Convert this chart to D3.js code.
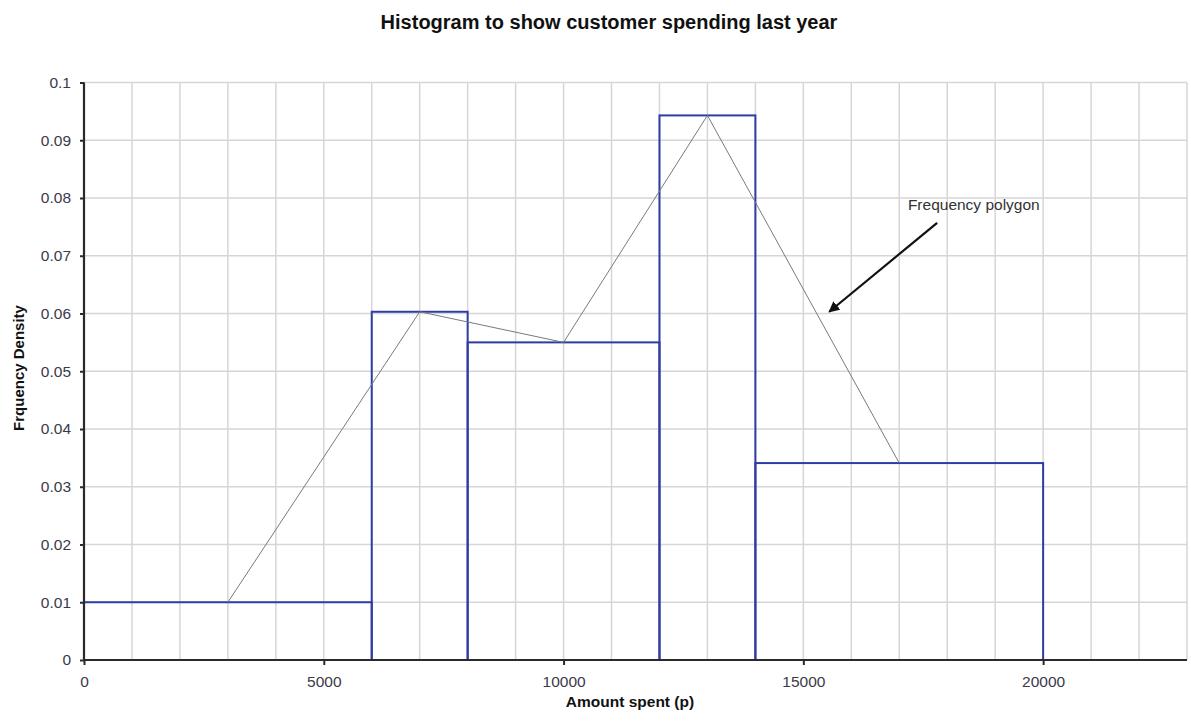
<!DOCTYPE html>
<html>
<head>
<meta charset="utf-8">
<script src="https://cdn.jsdelivr.net/npm/d3@7"></script>
<style>
  html, body { margin: 0; padding: 0; background: #fff; }
  svg { display: block; font-family: "Liberation Sans", Arial, sans-serif; }
</style>
</head>
<body>
<svg id="chart" width="1191" height="721"></svg>
<script>
// Class intervals (amount spent, pence) and frequency densities
const classStart = [0, 6000, 8000, 12000, 14000];
const classEnd = [6000, 8000, 12000, 14000, 20000];
const density = [0.0100, 0.0603, 0.0550, 0.0943, 0.0341];

// Frequency polygon vertices (class midpoints)
const polyX = [3000, 7000, 10000, 13000, 17000];
const polyY = [0.0100, 0.0603, 0.0550, 0.0943, 0.0341];

const xTicks = [0, 5000, 10000, 15000, 20000];
const yTicks = [0, 0.01, 0.02, 0.03, 0.04, 0.05, 0.06, 0.07, 0.08, 0.09, 0.1];

const W = 1191, H = 721;
const margin = { top: 82.5, right: 4, bottom: 61, left: 84 };

const svg = d3.select("#chart");

const x = d3.scaleLinear().domain([0, 23000]).range([margin.left, W - margin.right]);
const y = d3.scaleLinear().domain([0, 0.1]).range([H - margin.bottom, margin.top]);

// Grid
const grid = svg.append("g").attr("stroke", "#d6d6d6").attr("stroke-width", 1.5);
grid.selectAll("line.v")
  .data(d3.range(1000, 23001, 1000))
  .join("line")
  .attr("x1", d => x(d)).attr("x2", d => x(d))
  .attr("y1", y(0)).attr("y2", y(0.1));
grid.selectAll("line.h")
  .data(yTicks.slice(1))
  .join("line")
  .attr("x1", x(0)).attr("x2", x(23000))
  .attr("y1", d => y(d)).attr("y2", d => y(d));

// Histogram bars (outlined)
svg.append("g")
  .selectAll("rect")
  .data(density)
  .join("rect")
  .attr("x", (d, i) => x(classStart[i]))
  .attr("width", (d, i) => x(classEnd[i]) - x(classStart[i]))
  .attr("y", d => y(d))
  .attr("height", d => y(0) - y(d))
  .attr("fill", "none")
  .attr("stroke", "#2e3ca6")
  .attr("stroke-width", 2);

// Frequency polygon
const line = d3.line().x((d, i) => x(polyX[i])).y(d => y(d));
svg.append("path")
  .datum(polyY)
  .attr("d", line)
  .attr("fill", "none")
  .attr("stroke", "#7a7a7a")
  .attr("stroke-width", 1);

// Axes
const yAxis = d3.axisLeft(y)
  .tickValues(yTicks)
  .tickSize(4)
  .tickPadding(9)
  .tickFormat(d => String(+d.toFixed(2)));
const gy = svg.append("g").attr("transform", `translate(${x(0)},0)`).call(yAxis);

const xAxis = d3.axisBottom(x)
  .tickValues(xTicks)
  .tickSize(5)
  .tickPadding(11)
  .tickFormat(d => String(d));
const gx = svg.append("g").attr("transform", `translate(0,${y(0)})`).call(xAxis);

[gx, gy].forEach(g => {
  g.select(".domain").attr("stroke", "#2a2a2a").attr("stroke-width", 2.2);
  g.selectAll(".tick line").attr("stroke", "#2a2a2a").attr("stroke-width", 2);
  g.selectAll(".tick text")
    .attr("fill", "#3a3a4a")
    .style("font-size", "15.5px")
    .style("font-family", "'Liberation Sans', Arial, sans-serif");
});
gx.select(".domain").attr("d", `M${x(0)},0H${x(23000)}`);
gy.select(".domain").attr("d", `M0,${y(0)}V${y(0.1)}`);

// Titles
svg.append("text")
  .attr("x", 609).attr("y", 29)
  .attr("text-anchor", "middle")
  .attr("font-weight", "bold")
  .attr("font-size", 20)
  .attr("fill", "#111")
  .text("Histogram to show customer spending last year");

svg.append("text")
  .attr("x", 630).attr("y", 707)
  .attr("text-anchor", "middle")
  .attr("font-weight", "bold")
  .attr("font-size", 15.5)
  .attr("fill", "#111")
  .text("Amount spent (p)");

svg.append("text")
  .attr("transform", `translate(24,${368}) rotate(-90)`)
  .attr("text-anchor", "middle")
  .attr("font-weight", "bold")
  .attr("font-size", 15)
  .attr("fill", "#111")
  .text("Frquency Density");

// Annotation with arrow
const defs = svg.append("defs");
defs.append("marker")
  .attr("id", "arrowhead")
  .attr("viewBox", "0 0 10 10")
  .attr("refX", 9).attr("refY", 5)
  .attr("markerWidth", 5).attr("markerHeight", 5)
  .attr("markerUnits", "strokeWidth")
  .attr("orient", "auto")
  .append("path")
  .attr("d", "M0,0L10,5L0,10z")
  .attr("fill", "#111");

svg.append("line")
  .attr("x1", x(17790)).attr("y1", y(0.0757))
  .attr("x2", x(15540)).attr("y2", y(0.0603))
  .attr("stroke", "#111")
  .attr("stroke-width", 2.2)
  .attr("marker-end", "url(#arrowhead)");

svg.append("text")
  .attr("x", x(17180)).attr("y", y(0.0779))
  .attr("font-size", 15.5)
  .attr("fill", "#333")
  .text("Frequency polygon");
</script>
</body>
</html>
